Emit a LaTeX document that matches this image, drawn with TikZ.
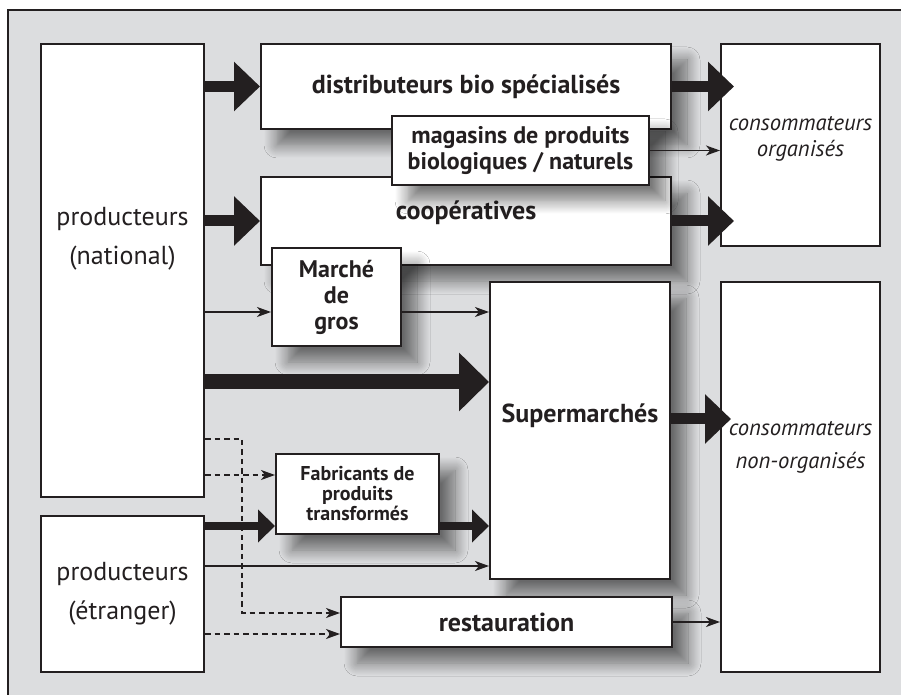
\documentclass[tikz,border=0pt]{standalone}
\usepackage{xcolor}
\usepackage{fontspec}
\setmainfont{PT Sans}
\usepackage{tikz}
\usetikzlibrary{arrows.meta, positioning, shadows.blur}

\definecolor{framegray}{RGB}{220,221,223}
\definecolor{inkblack}{RGB}{35,31,32}

\begin{document}
\begin{tikzpicture}[
        x=0.5pt, y=-0.5pt,
        box/.style={rectangle, draw=inkblack, line width=1pt, fill=white, inner sep=2pt, align=center},
        shadowbox/.style={box, blur shadow={shadow xshift=8pt, shadow yshift=-8pt, shadow blur radius=6.5pt, shadow blur steps=14, shadow opacity=52}},
        regtext/.style={font=\fontsize{13}{19.5}\selectfont, align=center, text=inkblack},
        boldtext/.style={font=\bfseries\fontsize{13}{15}\selectfont, align=center, text=inkblack},
        boldmid/.style={font=\bfseries\fontsize{12}{13}\selectfont, align=center, text=inkblack},
        boldsmall/.style={font=\bfseries\fontsize{10}{10}\selectfont, align=center, text=inkblack},
        italtext/.style={font=\itshape\fontsize{11.3}{13}\selectfont, align=center, text=inkblack},
        flow/.style={draw=inkblack, line width=0.8pt, -{Stealth[length=7pt,width=5pt,inset=2pt]}},
        dashflow/.style={flow, dash pattern=on 2.75pt off 2pt},
        midflow/.style={draw=inkblack, line width=4pt, -{Triangle[length=8.5pt,width=16pt]}},
        bigflow/.style={draw=inkblack, line width=5.5pt, -{Triangle[length=13pt,width=24pt]}},
        hugeflow/.style={draw=inkblack, line width=7.5pt, -{Triangle[length=15pt,width=28.5pt]}}
        ]

        % Frame
        \useasboundingbox (0,0) rectangle (901,695);
        \clip (0,0) rectangle (901,695);
        \draw[draw=inkblack, line width=1.2pt, fill=framegray] (8,10) rectangle (915,710);

        % Producers
        \node[box, minimum width=81.5pt, minimum height=226.5pt] (natl) at (122.5,270.5) {};
        \node[regtext] (natltxt) at ([yshift=16pt]natl.center) {producteurs\\(national)};
        \node[box, regtext, minimum width=81.5pt, minimum height=78pt] (etr) at (122.5,594) {producteurs\\(étranger)};

        % Channels
        \node[shadowbox, boldtext, minimum width=205pt, minimum height=42.5pt] (distrib) at (466,86.5) {distributeurs bio spécialisés};
        \node[shadowbox, minimum width=205pt, minimum height=44pt] (coop) at (466,221) {};
        \node[boldtext] (cooptxt) at ([yshift=4pt]coop.center) {coopératives};
        \node[shadowbox, boldmid, minimum width=128.5pt, minimum height=34.5pt] (shops) at (520.5,150.5) {magasins de produits\\biologiques / naturels};
        \node[shadowbox, boldmid, minimum width=64.5pt, minimum height=49pt] (gros) at (336.5,297) {Marché\\de\\gros};
        \node[shadowbox, minimum width=90pt, minimum height=148.5pt] (super) at (580,430.5) {};
        \node[boldtext] (supertxt) at ([yshift=7.5pt]super.center) {Supermarchés};
        \node[shadowbox, boldsmall, minimum width=81.5pt, minimum height=40pt] (fab) at (357.5,494) {Fabricants de\\produits\\transformés};
        \node[shadowbox, boldtext, minimum width=165.5pt, minimum height=25pt] (resto) at (506.5,622) {restauration};

        % Consumers
        \node[box, minimum width=79.5pt, minimum height=101pt] (consorg) at (800.5,145) {};
        \node[italtext] (consorgtxt) at ([yshift=3pt]consorg.center) {consommateurs\\organisés};
        \node[box, minimum width=79.5pt, minimum height=195pt] (consnon) at (800.5,477) {};
        \node[italtext, font=\itshape\fontsize{11.3}{16.5}\selectfont] (consnontxt) at ([yshift=15pt]consnon.center) {consommateurs\\non-organisés};

        % Flows
        \coordinate (grosin) at ([yshift=-7.5pt]gros.west);
        \coordinate (bend) at (242,613);
        \draw[bigflow] (natl.east |- distrib) -- (distrib.west);
        \draw[bigflow] (natl.east |- coop) -- (coop.west);
        \draw[bigflow] (distrib.east) -- ([xshift=7pt]consorg.west |- distrib);
        \draw[flow] (shops.east) -- (shops.east -| consorg.west);
        \draw[bigflow] (coop.east) -- ([xshift=7pt]consorg.west |- coop);
        \draw[flow] (natl.east |- grosin) -- (grosin);
        \draw[flow] (gros.east |- grosin) -- (super.west |- grosin);
        \draw[hugeflow] (natl.east |- 0,382) -- (super.west |- 0,382);
        \draw[bigflow] (super.east |- 0,419) -- ([xshift=5.5pt]consnon.west |- 0,419);
        \draw[dashflow] (natl.east |- 0,475) -- (fab.west |- 0,475);
        \draw[dashflow] (natl.east |- 0,439) -| (bend) -- (resto.west |- bend);
        \draw[midflow] (etr.east |- 0,526) -- (fab.west |- 0,526);
        \draw[midflow] (fab.east |- 0,526) -- (super.west |- 0,526);
        \draw[flow] (etr.east |- 0,566) -- (super.west |- 0,566);
        \draw[dashflow] (etr.east |- 0,634) -- (resto.west |- 0,634);
        \draw[flow] (resto.east) -- (resto.east -| consnon.west);
    \end{tikzpicture}
\end{document}
